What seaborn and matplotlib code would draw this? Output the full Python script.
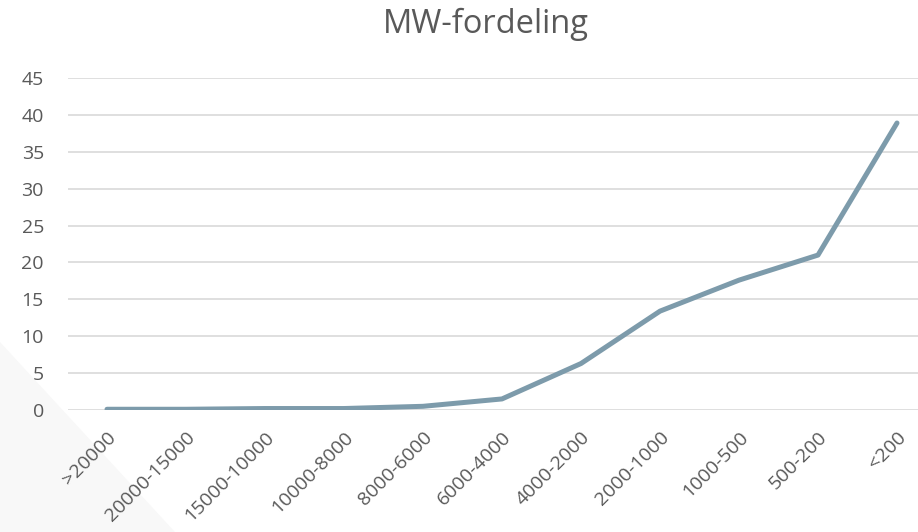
import matplotlib
matplotlib.use("Agg")
import matplotlib.pyplot as plt
from matplotlib.patches import Polygon
import seaborn as sns
import pandas as pd

# MW distribution per molecular-weight class
categories = [">20000", "20000-15000", "15000-10000", "10000-8000", "8000-6000",
              "6000-4000", "4000-2000", "2000-1000", "1000-500", "500-200", "<200"]
values = [0.1, 0.1, 0.2, 0.2, 0.5, 1.5, 6.3, 13.4, 17.6, 21.0, 38.9]
y_ticks = [0, 5, 10, 15, 20, 25, 30, 35, 40, 45]

df = pd.DataFrame({"klasse": categories, "andel": values})

sns.set_theme(style="white")
plt.rcParams["font.family"] = ["Open Sans", "DejaVu Sans"]

text_color = "#595959"
line_color = "#7d9bab"

fig = plt.figure(figsize=(9.18, 5.32), dpi=100)

# faint grey wedge in the lower left corner, as in the original slide
fig.patches.append(Polygon([(0, 0), (0, 190 / 532), (175 / 918, 0)], closed=True,
                           transform=fig.transFigure, facecolor="#f8f8f8",
                           edgecolor="none", zorder=-1))

# axes placed in pixel terms: categories spaced 79 px, first at x=107
ax = fig.add_axes([67.5 / 918, 122 / 532, 869 / 918, 332 / 532])
ax.patch.set_alpha(0)

sns.lineplot(data=df, x="klasse", y="andel", sort=False, ax=ax,
             color=line_color, linewidth=3.6, solid_capstyle="round",
             solid_joinstyle="round")

ax.set_xlim(-0.5, len(categories) - 0.5)
ax.set_ylim(0, 45)
ax.set_yticks(y_ticks)
ax.yaxis.grid(True, color="#d9d9d9", linewidth=1.2)
ax.set_axisbelow(True)
for s in ax.spines.values():
    s.set_visible(False)

ax.set_xlabel("")
ax.set_ylabel("")
ax.tick_params(axis="y", length=0, pad=17, labelsize=14, labelcolor=text_color)
ax.tick_params(axis="x", length=0, pad=13, labelsize=14, labelcolor=text_color)
plt.setp(ax.get_xticklabels(), rotation=45, ha="right", rotation_mode="anchor")

fig.text(486 / 918, 1 - 24 / 532, "MW-fordeling", ha="center", va="center",
         fontsize=23.5, color=text_color)

fig.savefig("out.png", dpi=100, facecolor="white")
